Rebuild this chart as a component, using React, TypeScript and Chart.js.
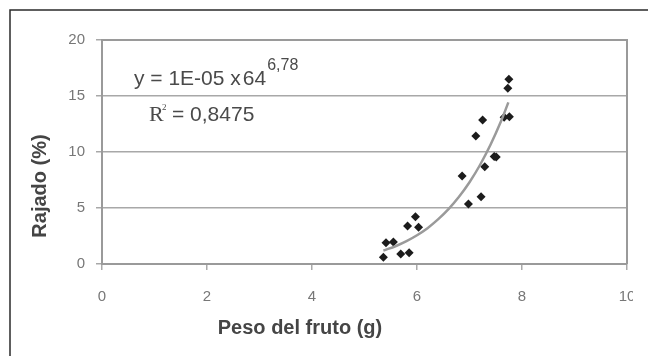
import React, { useEffect, useRef } from "react";
import { Chart, registerables } from "chart.js";

Chart.register(...registerables);

const pesoFruto = [5.36, 5.41, 5.55, 5.69, 5.85, 5.82, 5.97, 6.03, 6.86, 6.98, 7.12, 7.25, 7.22, 7.29, 7.47, 7.51, 7.75, 7.73, 7.76, 7.66];
const rajado = [0.6, 1.9, 1.96, 0.89, 1.0, 3.39, 4.22, 3.28, 7.86, 5.36, 11.43, 12.86, 6.0, 8.69, 9.6, 9.55, 16.5, 15.7, 13.15, 13.1];

const trendX = [5.36, 5.6, 5.8, 6.0, 6.2, 6.4, 6.6, 6.8, 7.0, 7.2, 7.4, 7.6, 7.74];
const trendY = [1.2, 1.61, 2.04, 2.57, 3.2, 3.98, 4.9, 6.0, 7.3, 8.84, 10.64, 12.74, 14.43];

const xTicks = [0, 2, 4, 6, 8, 10];
const yTicks = [0, 5, 10, 15, 20];

const xTitle = "Peso del fruto (g)";
const yTitle = "Rajado (%)";
const eqLeft = "y = 1E-05 x";
const eqBase = "64";
const eqExp = "6,78";
const r2Value = "= 0,8475";

const SANS = "'Liberation Sans', Arial, sans-serif";
const SERIF = "'Liberation Serif', 'Times New Roman', serif";

export default function App() {
  const ref = useRef<HTMLCanvasElement | null>(null);

  useEffect(() => {
    const canvas = ref.current;
    if (!canvas) return;

    const overlay = {
      id: "overlay",
      afterDraw(chart: any) {
        const ctx = chart.ctx;
        const a = chart.chartArea;
        ctx.save();
        // plot border (top / right)
        ctx.strokeStyle = "#9a9a9a";
        ctx.lineWidth = 2;
        ctx.beginPath();
        ctx.moveTo(a.left, a.top);
        ctx.lineTo(a.right, a.top);
        ctx.lineTo(a.right, a.bottom);
        ctx.stroke();

        // outer frame
        ctx.strokeStyle = "#2a2a2a";
        ctx.lineWidth = 1.5;
        ctx.beginPath();
        ctx.moveTo(10, 356);
        ctx.lineTo(10, 10);
        ctx.lineTo(648, 10);
        ctx.stroke();

        // clip of last tick label
        ctx.fillStyle = "#ffffff";
        ctx.fillRect(633, 280, 15, 40);

        // axis titles
        ctx.fillStyle = "#454545";
        ctx.font = `bold 20px ${SANS}`;
        ctx.textAlign = "center";
        ctx.textBaseline = "middle";
        ctx.fillText(xTitle, 300, 328);
        ctx.save();
        ctx.translate(40, 186);
        ctx.rotate(-Math.PI / 2);
        ctx.fillText(yTitle, 0, 0);
        ctx.restore();

        // equation
        ctx.fillStyle = "#4a4a4a";
        ctx.textAlign = "left";
        ctx.textBaseline = "alphabetic";
        ctx.font = `21px ${SANS}`;
        ctx.fillText(eqLeft, 134, 85);
        const w = ctx.measureText(eqLeft).width;
        ctx.fillText(eqBase, 134 + w + 2, 85);
        const w2 = ctx.measureText(eqBase).width;
        ctx.font = `16px ${SANS}`;
        ctx.fillText(eqExp, 134 + w + 2 + w2 + 1, 70);

        ctx.font = `22px ${SERIF}`;
        ctx.fillText("R", 149, 121);
        ctx.font = `9px ${SERIF}`;
        ctx.fillText("2", 162, 110);
        ctx.font = `21px ${SANS}`;
        ctx.fillText(r2Value, 172, 121);
        ctx.restore();
      },
    };

    const chart = new Chart(canvas, {
      type: "scatter",
      data: {
        datasets: [
          {
            type: "line",
            data: trendX.map((x, i) => ({ x, y: trendY[i] })),
            borderColor: "#9a9a9a",
            borderWidth: 2.5,
            pointRadius: 0,
            tension: 0.4,
            fill: false,
            order: 0,
          } as any,
          {
            data: pesoFruto.map((x, i) => ({ x, y: rajado[i] })),
            pointStyle: "rectRot",
            pointRadius: 4.5,
            backgroundColor: "#1c1c1c",
            borderColor: "#1c1c1c",
            borderWidth: 0,
            order: 1,
          },
        ],
      },
      options: {
        responsive: false,
        animation: false,
        events: [],
        layout: { padding: { left: 10, top: 40, right: 0, bottom: 0 } },
        plugins: {
          legend: { display: false },
          tooltip: { enabled: false },
        },
        scales: {
          x: {
            type: "linear",
            min: 0,
            max: 10,
            afterBuildTicks: (s: any) => {
              s.ticks = xTicks.map((v) => ({ value: v }));
            },
            afterFit: (s: any) => {
              s.height = 92;
              s.paddingRight = 21;
            },
            ticks: {
              color: "#777",
              font: { size: 15, family: SANS },
              padding: 18,
              maxRotation: 0,
            },
            grid: {
              drawOnChartArea: false,
              drawTicks: true,
              tickLength: 6,
              color: "#aaaaaa",
              lineWidth: 1.5,
            },
            border: { display: true, color: "#9a9a9a", width: 2 },
          },
          y: {
            type: "linear",
            min: 0,
            max: 20,
            afterBuildTicks: (s: any) => {
              s.ticks = yTicks.map((v) => ({ value: v }));
            },
            afterFit: (s: any) => {
              s.width = 92;
            },
            ticks: {
              color: "#777",
              font: { size: 15, family: SANS },
              padding: 11,
            },
            grid: {
              drawTicks: true,
              tickLength: 6,
              color: "#a8a8a8",
              lineWidth: 1.5,
            },
            border: { display: true, color: "#9a9a9a", width: 2 },
          },
        },
      },
      plugins: [overlay],
    } as any);

    return () => chart.destroy();
  }, []);

  return (
    <div style={{ position: "absolute", left: 0, top: 0, width: 648, height: 356, background: "#fff" }}>
      <canvas ref={ref} width={648} height={356} style={{ display: "block" }} />
    </div>
  );
}
